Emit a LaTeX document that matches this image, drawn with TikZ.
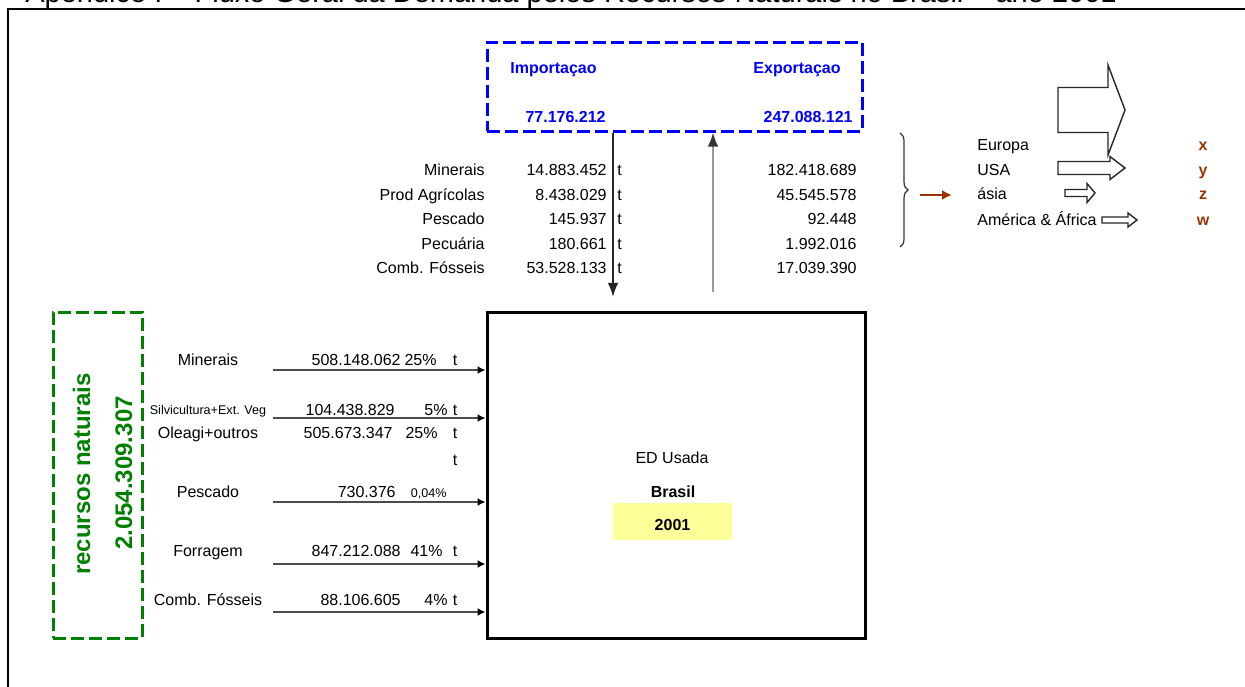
\documentclass[tikz,border=0pt]{standalone}
\usepackage{fontspec}
\setmainfont{Liberation Sans}
\usetikzlibrary{arrows.meta,positioning,decorations.pathreplacing}
\definecolor{tradeblue}{RGB}{0,0,255}
\definecolor{natgreen}{RGB}{0,128,0}
\definecolor{rust}{RGB}{153,51,0}
\definecolor{paleyellow}{RGB}{255,255,153}
\tikzset{
  txt/.style={font=\fontsize{8}{9}\selectfont,inner sep=0pt,text height=5.7pt,text depth=0pt},
  boldtxt/.style={txt,font=\fontsize{8}{9}\selectfont\bfseries},
  bluetxt/.style={boldtxt,text=tradeblue},
  rusttxt/.style={boldtxt,text=rust},
  tinytxt/.style={font=\fontsize{6.3}{7}\selectfont,inner sep=0pt,text height=4.5pt,text depth=0pt},
  greentxt/.style={rotate=90,anchor=base,inner sep=0pt,text=natgreen,font=\fontsize{12}{14}\selectfont\bfseries},
  dashbox/.style={line width=1.5pt,dash pattern=on 6.5pt off 2.5pt,inner sep=0pt},
  feed/.style={draw=black!70,line width=0.9pt,-{Latex[length=4pt,width=4pt,black]}},
}
\begin{document}
\begin{tikzpicture}[x=0.5pt,y=-0.5pt,>=Latex]
\useasboundingbox (0,0) rectangle (1245,686);
\clip (0,0) rectangle (1245,686);
% title line, cut by the page top
\node[anchor=base west,inner sep=0pt,font=\fontsize{14.5}{17}\selectfont] (title) at (25,2)
  {Apêndice I – Fluxo Geral da Demanda pelos Recursos Naturais no Brasil – ano 2001};
\draw[line width=1.3pt] (8,700) -- (8,9) -- (1260,9);

% import / export box
\node[draw=tradeblue,dashbox,minimum width=187.5pt,minimum height=44.5pt] (trade) at (674.5,86.5) {};
\node[bluetxt,anchor=west] (implbl) at (510,68) {Importaçao};
\node[bluetxt,anchor=east] (explbl) at (841,68) {Exportaçao};
\node[bluetxt,anchor=east] (imptot) at (606,117) {77.176.212};
\node[bluetxt,anchor=east] (exptot) at (853,117) {247.088.121};

% trade table
\foreach \y/\name/\valimp/\valexp [count=\i] in {170/Minerais/14.883.452/182.418.689,
    194.5/Prod Agrícolas/8.438.029/45.545.578, 219/Pescado/145.937/92.448,
    243.5/Pecuária/180.661/1.992.016, 268/Comb. Fósseis/53.528.133/17.039.390}{
  \node[txt,anchor=east] (prod\i) at (485,\y) {\name};
  \node[txt,anchor=east] (imp\i) at (607,\y) {\valimp};
  \node[txt,anchor=west] (unit\i) at (617,\y) {t};
  \node[txt,anchor=east] (exp\i) at (857,\y) {\valexp};
}

% main box
\node[draw,line width=1.5pt,minimum width=189pt,minimum height=163pt] (edbox) at (676,475) {};
\node[txt] (edlbl) at (672,458) {ED Usada};
\node[boldtxt] (country) at (673,492) {Brasil};
\node[fill=paleyellow,minimum width=59.5pt,minimum height=18.5pt,inner sep=0pt] (yearbox) at (672.5,521.5) {};
\node[boldtxt,yshift=-1.5pt] (year) at (yearbox.center) {2001};

\coordinate (impend) at (613,297);
\draw[->,line width=0.9pt,black!85] (trade.south -| impend) -- (impend);
\coordinate (expstart) at (713,292);
\draw[line width=0.9pt,black!40,-{Latex[black!80]}] (expstart) -- (expstart |- trade.south);

% natural resources box
\node[draw=natgreen,dashbox,minimum width=44.5pt,minimum height=163pt] (recbox) at (97.5,475) {};
\node[greentxt] (recname) at (90,474) {recursos naturais};
\node[greentxt] (rectotal) at (132,473) {2.054.309.307};

% resource rows
\foreach \y/\name/\val/\vx/\pct/\px in {360/Minerais/508.148.062/401/25\%/437,
    433/Oleagi+outros/505.673.347/393/25\%/438, 551/Forragem/847.212.088/401/41\%/443,
    600/Comb. Fósseis/88.106.605/401/4\%/448}{
  \node[txt] at (208,\y) {\name};
  \node[txt,anchor=east] at (\vx,\y) {\val};
  \node[txt,anchor=east] at (\px,\y) {\pct};
  \node[txt] at (455,\y) {t};
}
\node[tinytxt] (silv) at (208,410) {Silvicultura+Ext. Veg};
\node[txt,anchor=east] (silvval) at (395,410) {104.438.829};
\node[txt,anchor=east] (silvpct) at (448,410) {5\%};
\node[txt] (silvt) at (455,410) {t};
\node[txt] (lonet) at (455,460) {t};
\node[txt] (fish) at (208,492) {Pescado};
\node[txt,anchor=east] (fishval) at (396,492) {730.376};
\node[tinytxt,anchor=east] (fishpct) at (447,493) {0,04\%};

\foreach \y [count=\i] in {370,418,502,564,612}{
  \coordinate (src\i) at (273,\y);
  \draw[feed] (src\i) -- (src\i -| edbox.west);
}

% destinations
\coordinate (brtop) at (900,133);
\coordinate (brbot) at (900,247);
\draw[decorate,decoration={brace,amplitude=4pt},black!80,line width=0.6pt] (brtop) -- (brbot);
\coordinate (rfrom) at (920,195);
\coordinate (rto) at (952,195);
\draw[rust,line width=1pt,-{Latex[length=5pt,width=5pt]}] (rfrom) -- (rto);

\foreach \y/\reg/\mk [count=\i] in {145/Europa/x,170/USA/y,194/ásia/z,220/América \& África/w}{
  \node[txt,anchor=west] (reg\i) at (977,\y) {\reg};
  \node[rusttxt] (mk\i) at (1203,\y) {\mk};
}
\foreach \xa/\xb/\xt/\ym/\hs/\hh in {1058/1108/1125/110/22.5/45,1058/1110/1125/168/6.5/11.5,
    1065/1087/1095/193/3.5/9.5,1102/1128/1137/220/3/7}
  \draw[black!85,line width=0.7pt,fill=white] (\xa,\ym-\hs) -- (\xb,\ym-\hs) -- (\xb,\ym-\hh)
    -- (\xt,\ym) -- (\xb,\ym+\hh) -- (\xb,\ym+\hs) -- (\xa,\ym+\hs) -- cycle;
\end{tikzpicture}
\end{document}
